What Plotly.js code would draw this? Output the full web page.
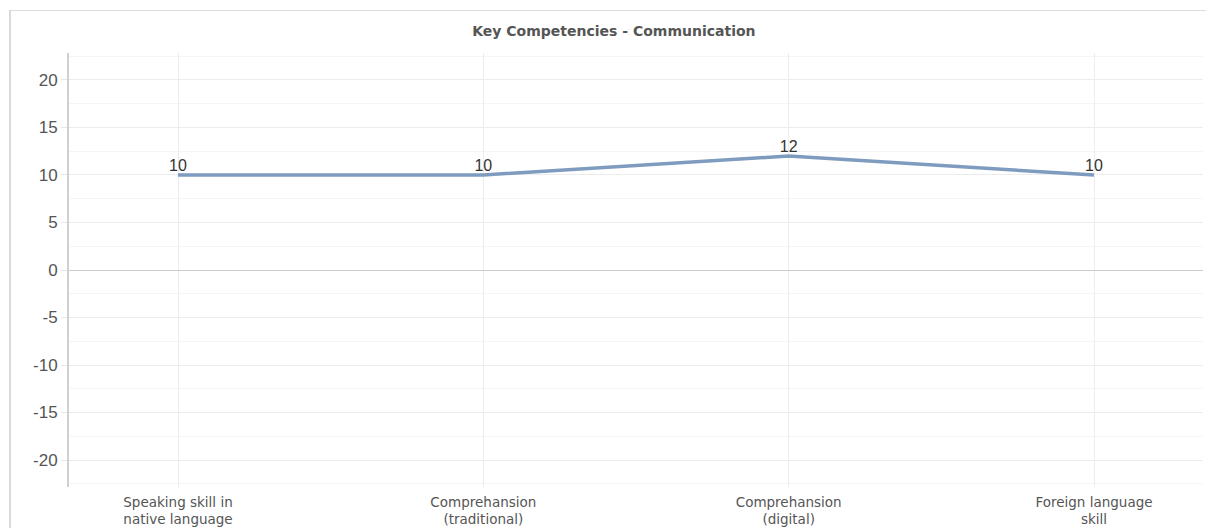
<!DOCTYPE html>
<html>
<head>
<meta charset="utf-8">
<script src="https://cdn.plot.ly/plotly-3.0.1.min.js"></script>
<style>
html,body{margin:0;padding:0;background:#fff;}
#frame{position:absolute;left:9px;top:10px;width:1197px;height:518px;border-left:2px solid #d9d9d9;border-top:1px solid #dcdcdc;box-sizing:border-box;}
#chart{position:absolute;left:0;top:0;width:1206px;height:528px;}
</style>
</head>
<body>
<div id="frame"></div>
<div id="chart"></div>
<script>
const categories = ["Speaking skill in<br>native language", "Comprehansion<br>(traditional)", "Comprehansion<br>(digital)", "Foreign language<br>skill"];
const values = [10, 10, 12, 10];
const labels = ["10", "10", "12", "10"];
const yTicks = [-20, -15, -10, -5, 0, 5, 10, 15, 20];
const yTickText = ["-20", "-15", "-10", "-5", "0", "5", "10", "15", "20"];

const trace = {
  x: [0, 1, 2, 3],
  y: values,
  text: labels,
  mode: "lines+text",
  textposition: "top center",
  textfont: {family: "Arial, Liberation Sans, sans-serif", size: 16, color: "#333"},
  line: {color: "#7f9bbf", width: 3.5},
  hoverinfo: "none",
  cliponaxis: false
};

const layout = {
  width: 1206, height: 528,
  margin: {l: 69, r: 3, t: 53, b: 41},
  paper_bgcolor: "rgba(0,0,0,0)",
  plot_bgcolor: "rgba(0,0,0,0)",
  showlegend: false,
  title: {
    text: "<b>Key Competencies - Communication</b>",
    x: 0.509, xanchor: "center", y: 0.941, yanchor: "middle",
    font: {family: "DejaVu Sans, sans-serif", size: 14, color: "#555"}
  },
  xaxis: {
    range: [-0.357, 3.357],
    tickvals: [0, 1, 2, 3],
    ticktext: categories,
    showgrid: true, gridcolor: "#ececec", gridwidth: 1,
    zeroline: false, showline: false, ticks: "",
    ticklabelstandoff: 5,
    tickfont: {family: "DejaVu Sans, sans-serif", size: 13.5, color: "#555"},
    fixedrange: true
  },
  yaxis: {
    range: [-22.84, 22.84],
    tickvals: yTicks,
    ticktext: yTickText,
    showgrid: true, gridcolor: "#ececec", gridwidth: 1,
    minor: {dtick: 2.5, tick0: 0, showgrid: true, gridcolor: "#f5f5f5", gridwidth: 1},
    zeroline: true, zerolinecolor: "#cccccc", zerolinewidth: 1,
    showline: true, linecolor: "#d0d0d0", linewidth: 2,
    ticks: "outside", ticklen: 6, tickcolor: "#e6e6e6",
    tickfont: {family: "Arial, Liberation Sans, sans-serif", size: 17, color: "#555"},
    fixedrange: true
  }
};

Plotly.newPlot("chart", [trace], layout, {displayModeBar: false, staticPlot: true});
</script>
</body>
</html>
